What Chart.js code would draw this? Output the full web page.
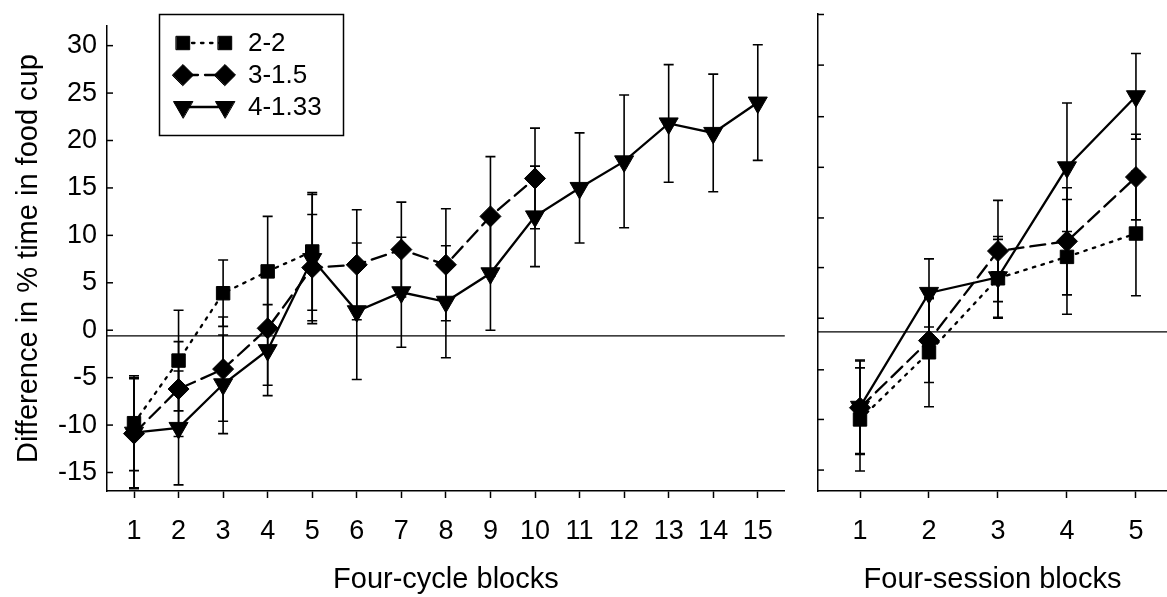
<!DOCTYPE html>
<html>
<head>
<meta charset="utf-8">
<script src="https://cdn.jsdelivr.net/npm/chart.js@4/dist/chart.umd.min.js"></script>
<style>
  html, body { margin: 0; padding: 0; background: #fff; }
  #wrap { position: relative; width: 1167px; height: 597px; }
  #left { position: absolute; left: 0; top: 0; }
  #right { position: absolute; left: 790px; top: 0; }
</style>
</head>
<body>
<div id="wrap">
  <canvas id="left" width="790" height="597"></canvas>
  <canvas id="right" width="377" height="597"></canvas>
</div>
<script>
// ---- data: four-cycle blocks (left panel) ----
const blocksA = [1, 2, 3, 4, 5, 6, 7, 8, 9, 10, 11, 12, 13, 14, 15];
const sq22A = [-9.8, -3.2, 3.9, 6.2, 8.3];
const sq22AErr = [5.0, 5.3, 3.5, 5.8, 6.2];
const di315A = [-10.9, -6.2, -4.1, 0.2, 6.6, 6.9, 8.5, 6.9, 12.0, 16.0];
const di315AErr = [5.8, 5.0, 5.5, 6.0, 5.6, 5.8, 5.0, 5.9, 6.3, 5.3];
const tr4133A = [-10.8, -10.3, -5.7, -2.1, 7.5, 2.0, 4.0, 3.0, 6.0, 12.0, 15.0, 17.8, 21.8, 20.8, 24.0];
const tr4133AErr = [5.8, 6.0, 5.2, 4.8, 6.8, 7.2, 5.8, 5.9, 6.0, 5.3, 5.8, 7.0, 6.2, 6.2, 6.1];

// ---- data: four-session blocks (right panel) ----
const blocksB = [1, 2, 3, 4, 5];
const sq22B = [-9.6, -2.7, 4.9, 7.1, 9.5];
const sq22BErr = [5.3, 5.6, 4.0, 5.9, 6.4];
const di315B = [-8.4, -1.5, 7.7, 8.7, 15.3];
const di315BErr = [4.8, 4.3, 5.2, 5.5, 4.4];
const tr4133B = [-8.3, 3.4, 5.0, 16.3, 23.6];
const tr4133BErr = [4.8, 3.5, 4.2, 6.6, 4.4];

// ---- axes ----
const yTicks = [-15, -10, -5, 0, 5, 10, 15, 20, 25, 30];
const yTicksRight = [-14.8, -9.6, -4.5, 0.8, 6.0, 11.1, 16.3, 21.5, 26.8, 32.0];
const zeroLine = -0.6;
const seriesNames = ["2-2", "3-1.5", "4-1.33"];

const FONT = "'Liberation Sans', Arial, sans-serif";

// series styles
const styles = [
    { pointStyle: "rect", radius: 9.5, rotation: 0, dash: [2.5, 6.5] },
    { pointStyle: "rectRot", radius: 10.5, rotation: 0, dash: [15, 7] },
    { pointStyle: "triangle", radius: 11, rotation: 180, dash: [] },
];

function makeDataset(i, xs, ys, errs) {
    const st = styles[i];
    return {
        label: seriesNames[i],
        data: ys.map((v, k) => ({ x: xs[k], y: v })),
        errors: errs,
        borderColor: "#000",
        backgroundColor: "#000",
        borderWidth: 2.3,
        borderDash: st.dash,
        borderCapStyle: "round",
        tension: 0,
        pointStyle: st.pointStyle,
        pointRadius: st.radius,
        pointRotation: st.rotation,
        pointBorderWidth: 1,
        pointBackgroundColor: "#000",
        pointBorderColor: "#000",
        clip: false,
    };
}

// error bars under the markers
const errorBars = {
    id: "errorBars",
    beforeDatasetsDraw(chart) {
        const ctx = chart.ctx;
        const ys = chart.scales.y;
        ctx.save();
        ctx.strokeStyle = "#000";
        ctx.lineWidth = 1.6;
        chart.data.datasets.forEach((ds, i) => {
            const meta = chart.getDatasetMeta(i);
            meta.data.forEach((pt, k) => {
                const v = ds.data[k].y, e = ds.errors[k];
                const top = ys.getPixelForValue(v + e);
                const bot = ys.getPixelForValue(v - e);
                ctx.beginPath();
                ctx.moveTo(pt.x, top); ctx.lineTo(pt.x, bot);
                ctx.moveTo(pt.x - 5, top); ctx.lineTo(pt.x + 5, top);
                ctx.moveTo(pt.x - 5, bot); ctx.lineTo(pt.x + 5, bot);
                ctx.stroke();
            });
        });
        ctx.restore();
    },
};

// horizontal reference line + inward y ticks
const axisExtras = {
    id: "axisExtras",
    beforeDatasetsDraw(chart) {
        const { ctx, chartArea } = chart;
        const ys = chart.scales.y;
        ctx.save();
        ctx.strokeStyle = "#000";
        ctx.lineWidth = 1.3;
        const zy = ys.getPixelForValue(zeroLine);
        ctx.beginPath();
        ctx.moveTo(chartArea.left, zy); ctx.lineTo(chartArea.right, zy);
        ctx.stroke();
        ctx.lineWidth = 1.5;
        ys.ticks.forEach(t => {
            const y = ys.getPixelForValue(t.value);
            ctx.beginPath();
            ctx.moveTo(chartArea.left, y); ctx.lineTo(chartArea.left + 6, y);
            ctx.stroke();
        });
        ctx.restore();
    },
};

// boxed legend with line + two markers
const boxLegend = {
    id: "boxLegend",
    afterDraw(chart) {
        const ctx = chart.ctx;
        ctx.save();
        ctx.strokeStyle = "#000";
        ctx.lineWidth = 1.5;
        ctx.strokeRect(159.5, 14.5, 184, 121);
        chart.data.datasets.forEach((ds, i) => {
            const st = styles[i];
            const y = 43 + i * 32;
            ctx.setLineDash(st.dash);
            ctx.lineWidth = 2.3;
            ctx.lineCap = "round";
            ctx.beginPath();
            ctx.moveTo(183, y); ctx.lineTo(225, y);
            ctx.stroke();
            ctx.setLineDash([]);
            ctx.fillStyle = "#000";
            ctx.lineWidth = 1;
            [183, 225].forEach(x => {
                Chart.helpers.drawPoint(ctx, { pointStyle: st.pointStyle, radius: st.radius, rotation: st.rotation, borderWidth: 1 }, x, y);
            });
            ctx.font = "26px " + FONT;
            ctx.textBaseline = "middle";
            ctx.fillText(ds.label, 248, y + 1);
        });
        ctx.restore();
    },
};

function xAxis(min, max, ticksArr, title) {
    return {
        type: "linear",
        min, max,
        afterBuildTicks: s => { s.ticks = ticksArr.map(v => ({ value: v })); },
        grid: { drawOnChartArea: false, drawTicks: true, tickLength: 7, tickColor: "#000", tickWidth: 1.5 },
        border: { color: "#000", width: 1.5 },
        ticks: { color: "#000", font: { family: FONT, size: 27 }, padding: 17, maxRotation: 0, autoSkip: false },
        title: { display: true, text: title, color: "#000", font: { family: FONT, size: 29 }, padding: { top: 0, bottom: 0 } },
        afterFit: s => { s.height = 106; },
    };
}

function yAxis(ticksArr, showLabels, width) {
    return {
        min: -16.95, max: 32.05,
        afterBuildTicks: s => { s.ticks = ticksArr.map(v => ({ value: v })); },
        grid: { drawOnChartArea: false, drawTicks: false },
        border: { color: "#000", width: 1.5 },
        ticks: { display: showLabels, color: "#000", font: { family: FONT, size: 27 }, padding: 10 },
        title: {
            display: showLabels, text: "Difference in % time in food cup", color: "#000",
            font: { family: FONT, size: 29 }, padding: { top: 12, bottom: 0 },
        },
        afterFit: s => { s.width = width; },
    };
}

const common = {
    responsive: false,
    animation: false,
    plugins: { legend: { display: false }, tooltip: { enabled: false } },
};

new Chart(document.getElementById("left"), {
    type: "line",
    data: {
        datasets: [
            makeDataset(0, blocksA, sq22A, sq22AErr),
            makeDataset(1, blocksA, di315A, di315AErr),
            makeDataset(2, blocksA, tr4133A, tr4133AErr),
        ],
    },
    options: {
        ...common,
        layout: { autoPadding: false, padding: { top: 14, right: 5, left: 0, bottom: 0 } },
        scales: {
            x: xAxis(0.394, 15.606, blocksA, "Four-cycle blocks"),
            y: yAxis(yTicks, true, 107),
        },
    },
    plugins: [axisExtras, errorBars, boxLegend],
});

new Chart(document.getElementById("right"), {
    type: "line",
    data: {
        datasets: [
            makeDataset(0, blocksB, sq22B, sq22BErr),
            makeDataset(1, blocksB, di315B, di315BErr),
            makeDataset(2, blocksB, tr4133B, tr4133BErr),
        ],
    },
    options: {
        ...common,
        layout: { autoPadding: false, padding: { top: 14, right: 0, left: 0, bottom: 0 } },
        scales: {
            x: xAxis(0.391, 5.45, blocksB, "Four-session blocks"),
            y: yAxis(yTicksRight, false, 28),
        },
    },
    plugins: [axisExtras, errorBars],
});
</script>
</body>
</html>
